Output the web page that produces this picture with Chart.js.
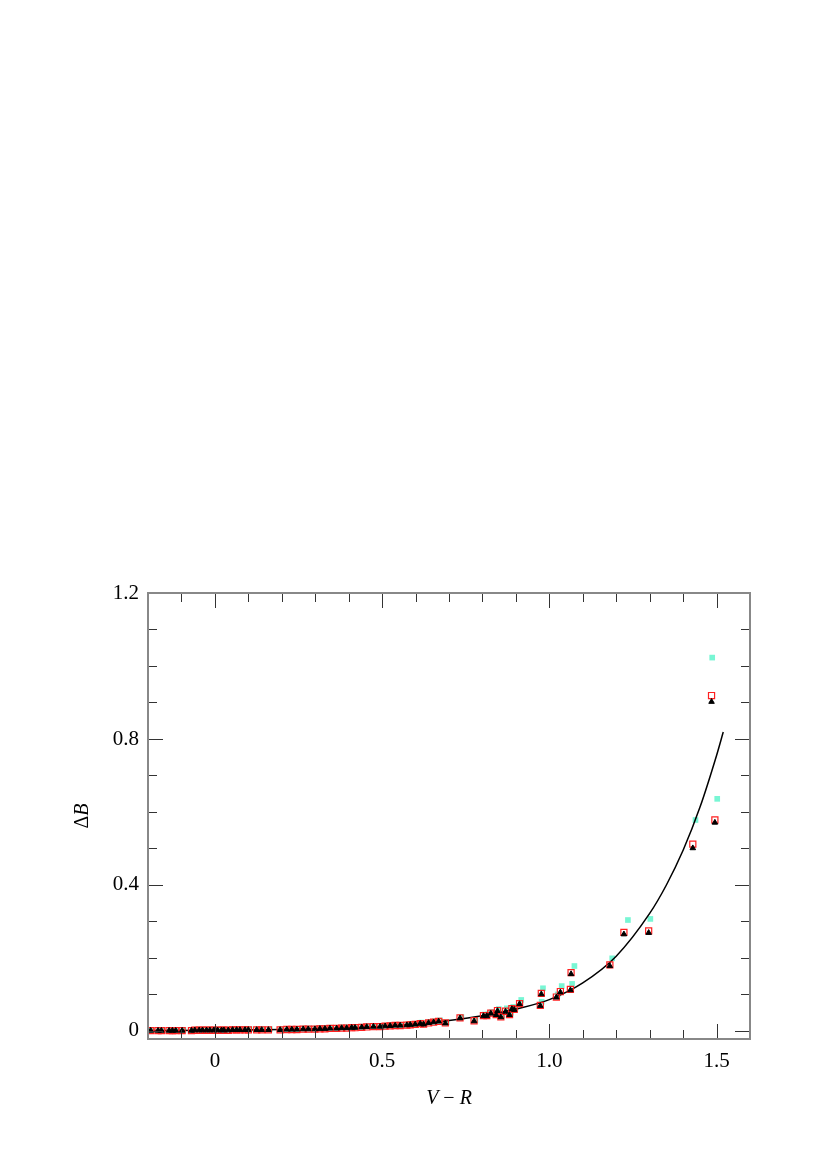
<!DOCTYPE html>
<html><head><meta charset="utf-8">
<script src="https://cdn.jsdelivr.net/npm/chart.js@4/dist/chart.umd.min.js"></script>
<style>html,body{margin:0;padding:0;background:#fff}canvas{display:block}</style>
</head><body>
<canvas id="c" width="830" height="1174"></canvas>
<script>
// ---- tick labels ----
const xTickValues = [0, 0.5, 1.0, 1.5];
const xTickLabels = ['0', '0.5', '1.0', '1.5'];
const yTickValues = [0, 0.4, 0.8, 1.2];
const yTickLabels = ['0', '0.4', '0.8', '1.2'];

// ---- stars: V-R colour (shared by black triangles and red squares) ----
const starX = [-0.192,-0.170,-0.160,-0.137,-0.127,-0.117,-0.098,-0.070,-0.060,-0.047,
  -0.037,-0.025,-0.015,-0.003,0.008,0.020,0.027,0.040,0.053,0.065,
  0.075,0.090,0.100,0.125,0.140,0.160,0.195,0.215,0.230,0.245,
  0.264,0.279,0.299,0.314,0.329,0.344,0.364,0.379,0.394,0.409,
  0.419,0.439,0.454,0.474,0.494,0.509,0.524,0.539,0.554,0.574,
  0.584,0.599,0.614,0.624,0.639,0.654,0.669,0.689,0.733,0.775,
  0.803,0.813,0.825,0.841,0.845,0.855,0.869,0.881,0.888,0.895,
  0.911,0.973,0.976,1.021,1.033,1.063,1.065,1.181,1.223,1.297,
  1.429,1.485,1.495];
// black filled triangles
const triangleY = [0.001,0.001,0.001,0.001,0.001,0.001,0.001,0.001,0.002,0.002,
  0.002,0.002,0.002,0.002,0.002,0.002,0.002,0.002,0.003,0.003,
  0.003,0.003,0.003,0.003,0.003,0.003,0.003,0.004,0.004,0.004,
  0.005,0.005,0.005,0.006,0.006,0.007,0.007,0.008,0.008,0.009,
  0.009,0.010,0.011,0.012,0.012,0.013,0.014,0.015,0.015,0.016,
  0.017,0.018,0.020,0.018,0.022,0.024,0.026,0.021,0.035,0.027,
  0.041,0.041,0.048,0.044,0.055,0.038,0.053,0.044,0.060,0.058,
  0.074,0.069,0.101,0.092,0.106,0.112,0.156,0.178,0.265,0.269,
  0.501,0.902,0.571];
// red open squares
const squareY = [0.001,0.001,0.001,0.001,0.001,0.001,0.001,0.001,0.002,0.002,
  0.002,0.002,0.002,0.002,0.002,0.002,0.002,0.002,0.003,0.003,
  0.003,0.003,0.003,0.003,0.003,0.003,0.003,0.004,0.004,0.004,
  0.005,0.005,0.005,0.006,0.006,0.007,0.007,0.008,0.008,0.009,
  0.009,0.010,0.011,0.012,0.012,0.013,0.014,0.015,0.015,0.016,
  0.017,0.018,0.020,0.019,0.022,0.024,0.026,0.022,0.036,0.028,
  0.042,0.042,0.049,0.045,0.056,0.039,0.054,0.045,0.061,0.059,
  0.075,0.070,0.103,0.093,0.108,0.114,0.160,0.181,0.270,0.274,
  0.512,0.919,0.578];
// cyan filled squares
const cyanX = [-0.188,-0.166,-0.156,-0.133,-0.123,-0.113,-0.094,-0.066,-0.056,-0.043,
  -0.033,-0.021,-0.011,0.001,0.012,0.024,0.031,0.044,0.057,0.069,
  0.079,0.094,0.104,0.129,0.144,0.164,0.199,0.219,0.234,0.249,
  0.268,0.283,0.303,0.318,0.333,0.348,0.368,0.383,0.398,0.413,
  0.423,0.443,0.458,0.478,0.498,0.513,0.528,0.543,0.558,0.578,
  0.588,0.603,0.618,0.628,0.643,0.658,0.673,0.693,0.737,0.779,
  0.807,0.817,0.829,0.845,0.849,0.859,0.873,0.885,0.892,0.899,
  0.916,0.977,0.981,1.025,1.037,1.068,1.075,1.188,1.235,1.302,
  1.437,1.487,1.502];
const cyanY = [0.003,0.003,0.003,0.003,0.003,0.003,0.003,0.003,0.004,0.004,
  0.004,0.004,0.004,0.004,0.004,0.004,0.004,0.004,0.005,0.005,
  0.005,0.005,0.005,0.005,0.005,0.005,0.005,0.006,0.006,0.006,
  0.007,0.007,0.007,0.008,0.008,0.009,0.009,0.010,0.010,0.011,
  0.011,0.012,0.013,0.014,0.014,0.015,0.016,0.017,0.017,0.018,
  0.019,0.020,0.023,0.021,0.025,0.027,0.029,0.024,0.038,0.030,
  0.045,0.046,0.052,0.048,0.060,0.042,0.062,0.050,0.066,0.064,
  0.085,0.080,0.117,0.100,0.123,0.129,0.178,0.199,0.304,0.307,
  0.578,1.023,0.636];
// fitted curve
const fitX = [-0.2, 0.0, 0.2, 0.4, 0.5, 0.6, 0.7, 0.8, 0.9, 1.0, 1.1, 1.2, 1.3, 1.35, 1.4, 1.45, 1.5, 1.52];
const fitY = [0.001, 0.002, 0.004, 0.0085, 0.0125, 0.019, 0.029, 0.042, 0.060, 0.086, 0.132, 0.205, 0.322, 0.400, 0.495, 0.612, 0.755, 0.819];

const pts = (xs, ys) => xs.map((x, i) => ({x, y: ys[i]}));

const SERIF = '"Liberation Serif", "DejaVu Serif", serif';

const framePlugin = {
  id: 'frame',
  afterDraw(chart) {
    const {ctx, chartArea: a, scales: {x, y}} = chart;
    ctx.save();
    ctx.strokeStyle = '#333';
    ctx.lineWidth = 1;
    const ln = (x1, y1, x2, y2) => { ctx.beginPath(); ctx.moveTo(x1, y1); ctx.lineTo(x2, y2); ctx.stroke(); };
    for (let i = -2; i <= 16; i++) {
      const px = Math.round(x.getPixelForValue(i / 10)) + 0.5;
      const L = (i % 5 === 0) ? 15 : 9;
      ln(px, a.bottom, px, a.bottom - L);
      ln(px, a.top, px, a.top + L);
    }
    for (let i = 0; i <= 12; i++) {
      const py = Math.round(y.getPixelForValue(i / 10)) + 0.5;
      const L = (i % 4 === 0) ? 15 : 9;
      ln(a.left, py, a.left + L, py);
      ln(a.right, py, a.right - L, py);
    }
    ctx.strokeStyle = '#888';
    ctx.lineWidth = 2;
    ctx.strokeRect(a.left, a.top, a.right - a.left, a.bottom - a.top);

    // axis titles
    ctx.fillStyle = '#000';
    ctx.textBaseline = 'alphabetic';
    const parts = [['V', 'italic'], [' \u2212 ', 'normal'], ['R', 'italic']];
    let w = 0;
    parts.forEach(p => { ctx.font = p[1] + ' 20px ' + SERIF; w += ctx.measureText(p[0]).width; });
    let cx = (a.left + a.right) / 2 - w / 2;
    parts.forEach(p => { ctx.font = p[1] + ' 20px ' + SERIF; ctx.textAlign = 'left'; ctx.fillText(p[0], cx, 1104); cx += ctx.measureText(p[0]).width; });

    ctx.translate(88, (a.top + a.bottom) / 2);
    ctx.rotate(-Math.PI / 2);
    const yparts = [['\u0394', 'normal'], ['B', 'italic']];
    w = 0;
    yparts.forEach(p => { ctx.font = p[1] + ' 20px ' + SERIF; w += ctx.measureText(p[0]).width; });
    cx = -w / 2;
    yparts.forEach(p => { ctx.font = p[1] + ' 20px ' + SERIF; ctx.textAlign = 'left'; ctx.fillText(p[0], cx, 0); cx += ctx.measureText(p[0]).width; });
    ctx.restore();
  }
};

new Chart(document.getElementById('c'), {
  type: 'scatter',
  data: {
    datasets: [
      { label: 'triangles', data: pts(starX, triangleY), pointStyle: 'triangle', pointRadius: 3.2,
        backgroundColor: '#000', borderColor: '#000', borderWidth: 1 },
      { label: 'squares', data: pts(starX, squareY), pointStyle: 'rect', pointRadius: 4.3,
        backgroundColor: 'rgba(0,0,0,0)', borderColor: '#ff2020', borderWidth: 1.2 },
      { type: 'line', label: 'fit', data: pts(fitX, fitY), borderColor: '#000', borderWidth: 1.5,
        pointRadius: 0, fill: false, cubicInterpolationMode: 'monotone' },
      { label: 'cyan', data: pts(cyanX, cyanY), pointStyle: 'rect', pointRadius: 4,
        backgroundColor: 'rgb(120,246,212)', borderColor: 'rgb(120,246,212)', borderWidth: 0 }
    ]
  },
  options: {
    responsive: false,
    animation: false,
    layout: { padding: { top: 593, right: 80, bottom: 0, left: 0 } },
    plugins: { legend: { display: false }, tooltip: { enabled: false } },
    scales: {
      x: {
        type: 'linear', min: -0.2, max: 1.6,
        grid: { display: false, drawTicks: false },
        border: { display: false },
        afterBuildTicks: s => { s.ticks = xTickValues.map(v => ({value: v})); },
        afterFit: s => { s.height = 135; },
        ticks: {
          padding: 10, color: '#000', font: { family: SERIF, size: 21 },
          callback: v => { const i = xTickValues.findIndex(t => Math.abs(t - v) < 1e-9); return i >= 0 ? xTickLabels[i] : ''; }
        }
      },
      y: {
        type: 'linear', min: -0.022, max: 1.2,
        grid: { display: false, drawTicks: false },
        border: { display: false },
        afterBuildTicks: s => { s.ticks = yTickValues.map(v => ({value: v})); },
        afterFit: s => { s.width = 148; },
        ticks: {
          padding: 9, color: '#000', font: { family: SERIF, size: 21 },
          callback: v => { const i = yTickValues.findIndex(t => Math.abs(t - v) < 1e-9); return i >= 0 ? yTickLabels[i] : ''; }
        }
      }
    }
  },
  plugins: [framePlugin]
});
</script>
</body></html>
